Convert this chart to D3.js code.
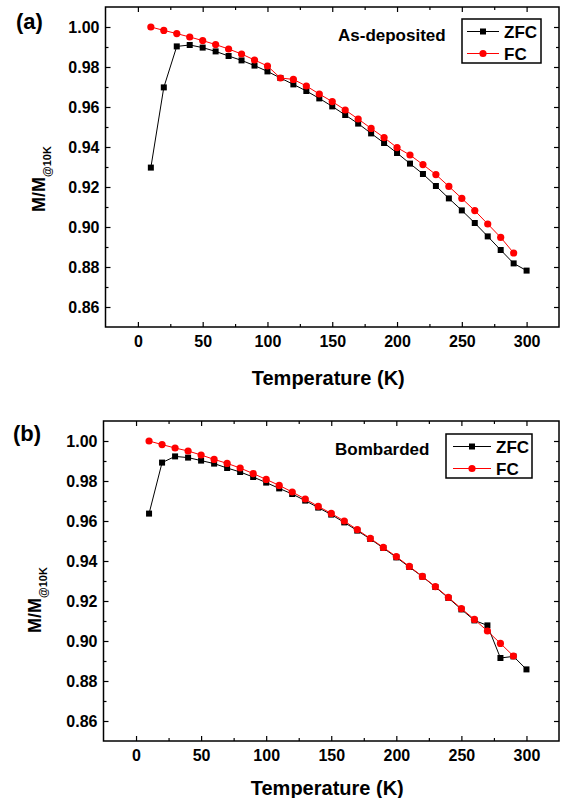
<!DOCTYPE html>
<html>
<head>
<meta charset="utf-8">
<script src="https://cdn.jsdelivr.net/npm/d3@7"></script>
<style>
  body { margin: 0; background: #fff; }
  text { font-family: "Liberation Sans", Arial, sans-serif; font-weight: bold; fill: #000; }
</style>
</head>
<body>
<svg id="chart" width="561" height="798"></svg>
<script>
// temperatures (K)
const tempsZFC = d3.range(10, 301, 10);
const tempsFC = d3.range(10, 291, 10);

// (a) as-deposited
const zfcA = [0.9297, 0.9698, 0.9903, 0.9910, 0.9897, 0.9878, 0.9855, 0.9833, 0.9807, 0.9778,
  0.9745, 0.9713, 0.9680, 0.9643, 0.9603, 0.9560, 0.9517, 0.9468, 0.9420, 0.9370,
  0.9317, 0.9265, 0.9205, 0.9143, 0.9083, 0.9020, 0.8953, 0.8885, 0.8818, 0.8782];
const fcA = [1.0000, 0.9983, 0.9967, 0.9950, 0.9932, 0.9912, 0.9890, 0.9865, 0.9835, 0.9805,
  0.9745, 0.9738, 0.9705, 0.9665, 0.9627, 0.9585, 0.9540, 0.9493, 0.9447, 0.9397,
  0.9360, 0.9312, 0.9262, 0.9203, 0.9143, 0.9082, 0.9015, 0.8948, 0.8870];

// (b) bombarded
const zfcB = [0.9637, 0.9892, 0.9923, 0.9917, 0.9902, 0.9887, 0.9865, 0.9845, 0.9820, 0.9792,
  0.9763, 0.9735, 0.9702, 0.9667, 0.9632, 0.9593, 0.9552, 0.9510, 0.9465, 0.9418,
  0.9370, 0.9322, 0.9270, 0.9215, 0.9158, 0.9103, 0.9078, 0.8915, 0.8923, 0.8858];
const fcB = [1.0000, 0.9982, 0.9965, 0.9950, 0.9930, 0.9908, 0.9888, 0.9865, 0.9837, 0.9808,
  0.9778, 0.9745, 0.9710, 0.9673, 0.9638, 0.9600, 0.9557, 0.9513, 0.9468, 0.9422,
  0.9373, 0.9323, 0.9272, 0.9218, 0.9162, 0.9108, 0.9050, 0.8988, 0.8925];

const xDomain = [-25, 325];
const yDomain = [0.85, 1.01];
const xMajor = [0, 50, 100, 150, 200, 250, 300];
const xMinor = [25, 75, 125, 175, 225, 275];
const yMajor = [0.86, 0.88, 0.90, 0.92, 0.94, 0.96, 0.98, 1.00];
const yMinor = [0.87, 0.89, 0.91, 0.93, 0.95, 0.97, 0.99];

const svg = d3.select("svg#chart");

const panels = [
  {
    tag: "(a)", label: "As-deposited", zfc: zfcA, fc: fcA,
    left: 105.5, right: 559, top: 7, bottom: 327,
    tagPos: [16, 29], labelPos: [338, 41],
    legend: { x: 462, y: 19, w: 79, h: 44, lx1: 467, lx2: 499, tx: 504 },
    yTitle: [45, 212], xLabelY: 350, xTitleY: 385
  },
  {
    tag: "(b)", label: "Bombarded", zfc: zfcB, fc: fcB,
    left: 103.5, right: 559, top: 421, bottom: 741,
    tagPos: [13, 441], labelPos: [335, 455],
    legend: { x: 446, y: 434, w: 86, h: 44, lx1: 453, lx2: 491, tx: 496 },
    yTitle: [41, 633], xLabelY: 762, xTitleY: 795
  }
];

panels.forEach(drawPanel);

function drawPanel(p) {
  const x = d3.scaleLinear().domain(xDomain).range([p.left, p.right]);
  const y = d3.scaleLinear().domain(yDomain).range([p.bottom, p.top]);
  const g = svg.append("g");

  // ticks (all pointing inward, mirrored on top/right)
  const tick = (sel, axis) => sel.call(axis).call(a => a.select(".domain").remove());
  tick(g.append("g").attr("transform", translate(0, p.bottom)),
    d3.axisBottom(x).tickValues(xMajor).tickSize(-5).tickPadding(9).tickFormat(d3.format("d")));
  tick(g.append("g").attr("transform", translate(0, p.bottom)),
    d3.axisBottom(x).tickValues(xMinor).tickSize(-3).tickFormat(""));
  tick(g.append("g").attr("transform", translate(0, p.top)),
    d3.axisTop(x).tickValues(xMajor).tickSize(-5).tickFormat(""));
  tick(g.append("g").attr("transform", translate(0, p.top)),
    d3.axisTop(x).tickValues(xMinor).tickSize(-3).tickFormat(""));
  tick(g.append("g").attr("transform", translate(p.left, 0)),
    d3.axisLeft(y).tickValues(yMajor).tickSize(-5).tickPadding(6).tickFormat(d3.format(".2f")));
  tick(g.append("g").attr("transform", translate(p.left, 0)),
    d3.axisLeft(y).tickValues(yMinor).tickSize(-3).tickFormat(""));
  tick(g.append("g").attr("transform", translate(p.right, 0)),
    d3.axisRight(y).tickValues(yMajor).tickSize(-5).tickFormat(""));
  tick(g.append("g").attr("transform", translate(p.right, 0)),
    d3.axisRight(y).tickValues(yMinor).tickSize(-3).tickFormat(""));

  g.selectAll(".tick line").attr("stroke", "#000").attr("stroke-width", 1.2);
  g.selectAll(".tick text")
    .style("font-family", "'Liberation Sans', Arial, sans-serif")
    .style("font-weight", "bold")
    .style("font-size", "16px");

  // frame
  g.append("rect")
    .attr("x", p.left).attr("y", p.top)
    .attr("width", p.right - p.left).attr("height", p.bottom - p.top)
    .attr("fill", "none").attr("stroke", "#000").attr("stroke-width", 1.5);

  // series
  const line = d3.line().x(d => x(d[0])).y(d => y(d[1]));
  const zfcPts = tempsZFC.map((t, i) => [t, p.zfc[i]]);
  const fcPts = tempsFC.map((t, i) => [t, p.fc[i]]);

  g.append("path").datum(zfcPts).attr("d", line)
    .attr("fill", "none").attr("stroke", "#000").attr("stroke-width", 1);
  g.selectAll("rect.zfc").data(zfcPts).enter().append("rect")
    .attr("class", "zfc")
    .attr("x", d => x(d[0]) - 3).attr("y", d => y(d[1]) - 3)
    .attr("width", 6).attr("height", 6).attr("fill", "#000");

  g.append("path").datum(fcPts).attr("d", line)
    .attr("fill", "none").attr("stroke", "#ff0000").attr("stroke-width", 1);
  g.selectAll("circle.fc").data(fcPts).enter().append("circle")
    .attr("class", "fc")
    .attr("cx", d => x(d[0])).attr("cy", d => y(d[1]))
    .attr("r", 3.6).attr("fill", "#ff0000");

  // legend
  const L = p.legend;
  const lg = g.append("g");
  lg.append("rect").attr("x", L.x).attr("y", L.y).attr("width", L.w).attr("height", L.h)
    .attr("fill", "#fff").attr("stroke", "#000").attr("stroke-width", 1.5);
  const rows = [
    { name: "ZFC", color: "#000", square: true, cy: L.y + 12.5 },
    { name: "FC", color: "#ff0000", square: false, cy: L.y + 34.5 }
  ];
  rows.forEach(r => {
    const mx = (L.lx1 + L.lx2) / 2;
    lg.append("line").attr("x1", L.lx1).attr("x2", L.lx2).attr("y1", r.cy).attr("y2", r.cy)
      .attr("stroke", r.color).attr("stroke-width", 1);
    if (r.square) {
      lg.append("rect").attr("x", mx - 3).attr("y", r.cy - 3).attr("width", 6).attr("height", 6)
        .attr("fill", r.color);
    } else {
      lg.append("circle").attr("cx", mx).attr("cy", r.cy).attr("r", 3.6).attr("fill", r.color);
    }
    lg.append("text").attr("x", L.tx).attr("y", r.cy + 6.5)
      .style("font-size", "17px").text(r.name);
  });

  // annotations
  g.append("text").attr("x", p.labelPos[0]).attr("y", p.labelPos[1])
    .style("font-size", "17px").text(p.label);
  g.append("text").attr("x", p.tagPos[0]).attr("y", p.tagPos[1])
    .style("font-size", "22px").text(p.tag);

  // axis titles
  g.append("text")
    .attr("x", (p.left + p.right) / 2 - 4).attr("y", p.xTitleY)
    .attr("text-anchor", "middle")
    .style("font-size", "20px").text("Temperature (K)");

  const yt = g.append("text")
    .attr("transform", translate(p.yTitle[0], p.yTitle[1]) + " rotate(-90)")
    .style("font-size", "18px");
  yt.append("tspan").text("M/M");
  yt.append("tspan").attr("dy", 6).style("font-size", "11px").text("@10K");
}

function translate(x, y) {
  return "translate(" + String(x) + "," + String(y) + ")";
}
</script>
</body>
</html>
